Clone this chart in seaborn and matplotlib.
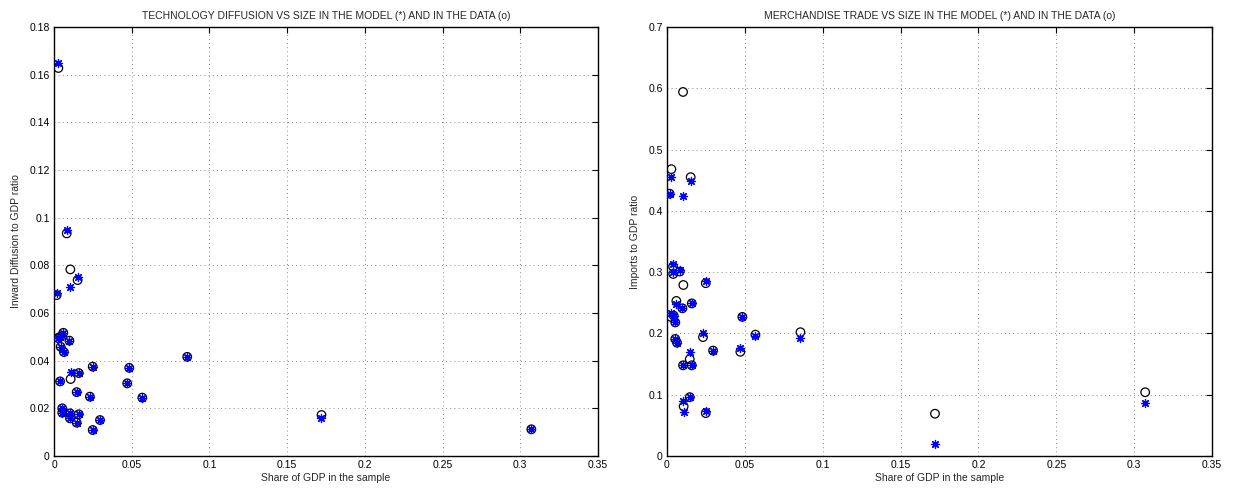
import numpy as np
import pandas as pd
import matplotlib
matplotlib.use("Agg")
import matplotlib.pyplot as plt
import seaborn as sns
from matplotlib.ticker import FuncFormatter, MultipleLocator

# ---- data ----
share_gdp = [0.0017, 0.0025, 0.0028, 0.0039, 0.0040, 0.0043, 0.0053, 0.0053,
             0.0060, 0.0064, 0.0082, 0.0099, 0.0103, 0.0103, 0.0105, 0.0107,
             0.0146, 0.0146, 0.0152, 0.0159, 0.0159, 0.0231, 0.0249, 0.0249,
             0.0296, 0.0471, 0.0484, 0.0568, 0.0857, 0.1721, 0.3071]

diff_data = [0.0675, 0.0495, 0.1628, 0.0313, 0.0500, 0.0458, 0.0200, 0.0182,
             0.0517, 0.0436, 0.0934, 0.0484, 0.0179, 0.0158, 0.0783, 0.0323,
             0.0268, 0.0140, 0.0738, 0.0348, 0.0175, 0.0249, 0.0375, 0.0109,
             0.0151, 0.0305, 0.0370, 0.0245, 0.0416, 0.0172, 0.0112]
diff_model = [0.0685, 0.0495, 0.1647, 0.0313, 0.0500, 0.0458, 0.0200, 0.0182,
              0.0517, 0.0436, 0.0948, 0.0484, 0.0179, 0.0158, 0.0710, 0.0354,
              0.0268, 0.0140, 0.0749, 0.0348, 0.0175, 0.0249, 0.0375, 0.0109,
              0.0151, 0.0305, 0.0370, 0.0245, 0.0416, 0.0161, 0.0112]

imp_data = [0.428, 0.227, 0.468, 0.309, 0.297, 0.229, 0.218, 0.191,
            0.253, 0.185, 0.301, 0.241, 0.148, 0.594, 0.279, 0.081,
            0.158, 0.096, 0.455, 0.249, 0.148, 0.194, 0.282, 0.070,
            0.172, 0.170, 0.227, 0.198, 0.202, 0.069, 0.104]
imp_model = [0.428, 0.233, 0.455, 0.313, 0.300, 0.229, 0.218, 0.191,
             0.248, 0.185, 0.303, 0.241, 0.148, 0.424, 0.089, 0.072,
             0.169, 0.096, 0.448, 0.249, 0.148, 0.201, 0.285, 0.074,
             0.172, 0.176, 0.227, 0.196, 0.192, 0.019, 0.086]

titles = ["TECHNOLOGY DIFFUSION VS SIZE IN THE MODEL (*) AND IN THE DATA (o)",
          "MERCHANDISE TRADE VS SIZE IN THE MODEL (*) AND IN THE DATA (o)"]
ylabels = ["Inward Diffusion to GDP ratio", "Imports to GDP ratio"]
xlabel = "Share of GDP in the sample"

sns.set_style("white")
plt.rcParams["font.family"] = ["Liberation Sans", "DejaVu Sans"]
plt.rcParams["font.size"] = 7.5

fig = plt.figure(figsize=(12.37, 4.93), dpi=100)
ax1 = fig.add_axes([54/1237, 1-456/493, (598-54)/1237, (456-27)/493])
ax2 = fig.add_axes([667/1237, 1-456/493, (1212-667)/1237, (456-27)/493])

df = pd.DataFrame({"share": share_gdp, "diff_data": diff_data,
                   "diff_model": diff_model, "imp_data": imp_data,
                   "imp_model": imp_model})

fmt = FuncFormatter(lambda v, p: "%g" % round(v, 6))
for ax, dcol, mcol, ymax, ystep, title, ylab in [
        (ax1, "diff_data", "diff_model", 0.18, 0.02, titles[0], ylabels[0]),
        (ax2, "imp_data", "imp_model", 0.7, 0.1, titles[1], ylabels[1])]:
    sns.scatterplot(data=df, x="share", y=dcol, ax=ax, marker="o",
                    facecolors="none", edgecolor="black", linewidth=0.9,
                    s=38, zorder=3, legend=False)
    sns.scatterplot(data=df, x="share", y=mcol, ax=ax, marker=(8, 2, 0),
                    color="blue", edgecolor="blue", linewidth=0.9,
                    s=34, zorder=4, legend=False)
    ax.set_xlim(0, 0.35)
    ax.set_ylim(0, ymax)
    ax.xaxis.set_major_locator(MultipleLocator(0.05))
    ax.yaxis.set_major_locator(MultipleLocator(ystep))
    ax.xaxis.set_major_formatter(fmt)
    ax.yaxis.set_major_formatter(fmt)
    ax.grid(True, linestyle=(0, (1, 4)), color="#666666", linewidth=0.6)
    ax.tick_params(direction="in", length=4, width=0.8, top=True, right=True,
                   labelsize=7.5, pad=3, colors="black")
    for sp in ax.spines.values():
        sp.set_color("black")
        sp.set_linewidth(1.0)
    ax.set_title(title, fontsize=7.5, pad=6)
    ax.set_xlabel(xlabel, fontsize=7.5, labelpad=2)
    ax.set_ylabel(ylab, fontsize=7.5, labelpad=6)

fig.savefig("out.png", dpi=100)
